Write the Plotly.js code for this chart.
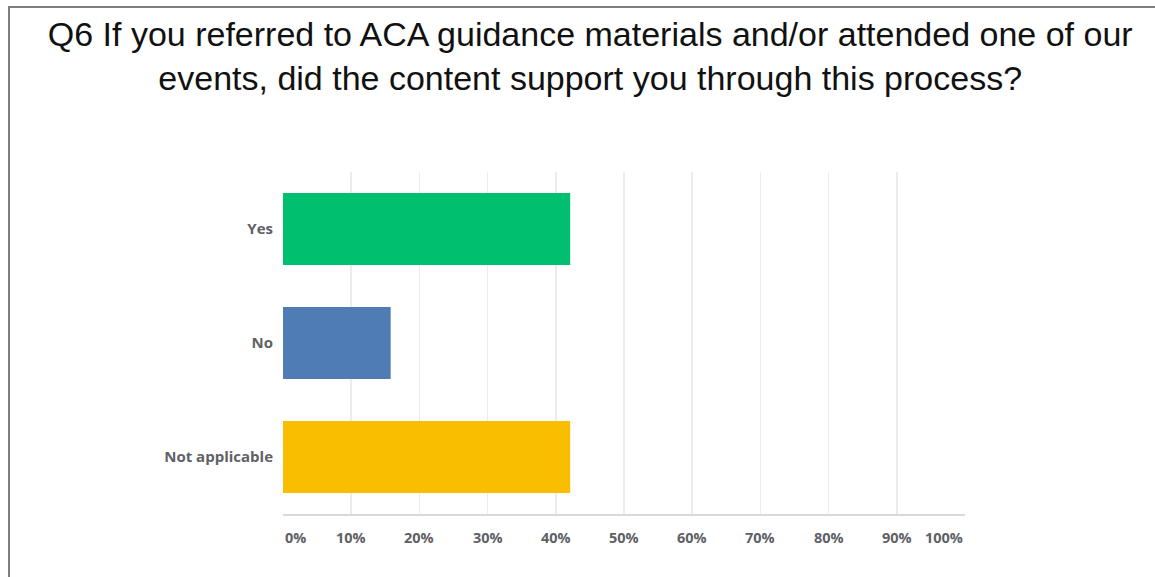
<!DOCTYPE html>
<html>
<head>
<meta charset="utf-8">
<script src="https://cdn.plot.ly/plotly-3.0.1.min.js"></script>
<style>
html,body{margin:0;padding:0;background:#fff;}
#wrap{position:relative;width:1155px;height:577px;overflow:hidden;}
#chart{position:absolute;left:0;top:0;width:1155px;height:577px;}
#frame{position:absolute;left:8px;top:6px;width:1160px;height:600px;border-left:2px solid #7f7f7f;border-top:2px solid #7f7f7f;pointer-events:none;}
</style>
</head>
<body>
<div id="wrap"><div id="chart"></div><div id="frame"></div></div>
<script>
const titleText = "Q6 If you referred to ACA guidance materials and/or attended one of our<br>events, did the content support you through this process?";
const categories = ["Yes", "No", "Not applicable"];
const values = [42.11, 15.79, 42.11];
const barColors = ["#00BF6F", "#507CB6", "#F9BE00"];
const tickValues = [0, 10, 20, 30, 40, 50, 60, 70, 80, 90, 100];
const tickLabels = ["0%", "10%", "20%", "30%", "40%", "50%", "60%", "70%", "80%", "90%", "100%"];

const xTickFont = {family: "'Open Sans', Lato, sans-serif", size: 14.5, color: "#5f6166", weight: 700};
const yTickFont = {family: "'Open Sans', Lato, sans-serif", size: 15, color: "#5f6166", weight: 700};

const annotations = tickValues.map((v, i) => ({
  x: v, y: 0, xref: "x", yref: "paper",
  yshift: -23,
  text: "<b>" + tickLabels[i] + "</b>",
  showarrow: false,
  xanchor: i === 0 ? "left" : (i === tickValues.length - 1 ? "right" : "center"),
  yanchor: "middle",
  font: xTickFont
}));

const data = [{
  type: "bar",
  orientation: "h",
  x: values,
  y: categories,
  marker: {color: barColors},
  width: 0.63,
  hoverinfo: "x+y"
}];

const layout = {
  width: 1155, height: 577,
  margin: {l: 283, r: 190, t: 172, b: 63},
  paper_bgcolor: "rgba(0,0,0,0)",
  plot_bgcolor: "#fff",
  title: {
    text: titleText,
    font: {family: "'Liberation Sans', Arial, sans-serif", size: 34, color: "#111"},
    x: 0.511, xanchor: "center",
    y: 1, yanchor: "top", yref: "container", pad: {t: 46}
  },
  showlegend: false,
  xaxis: {
    range: [0, 100],
    tickvals: tickValues,
    showticklabels: false,
    showgrid: true, gridcolor: "#ececec", gridwidth: 1.5,
    zeroline: false,
    showline: true, linecolor: "#d9d9d9", linewidth: 1.5,
    fixedrange: true
  },
  yaxis: {
    autorange: "reversed",
    range: [2.5, -0.5],
    showgrid: false, zeroline: false, showline: false,
    ticks: "",
    ticklabelstandoff: 9,
    tickfont: yTickFont,
    fixedrange: true
  },
  annotations: annotations
};

Plotly.newPlot("chart", data, layout, {displayModeBar: false, staticPlot: true});
</script>
</body>
</html>
